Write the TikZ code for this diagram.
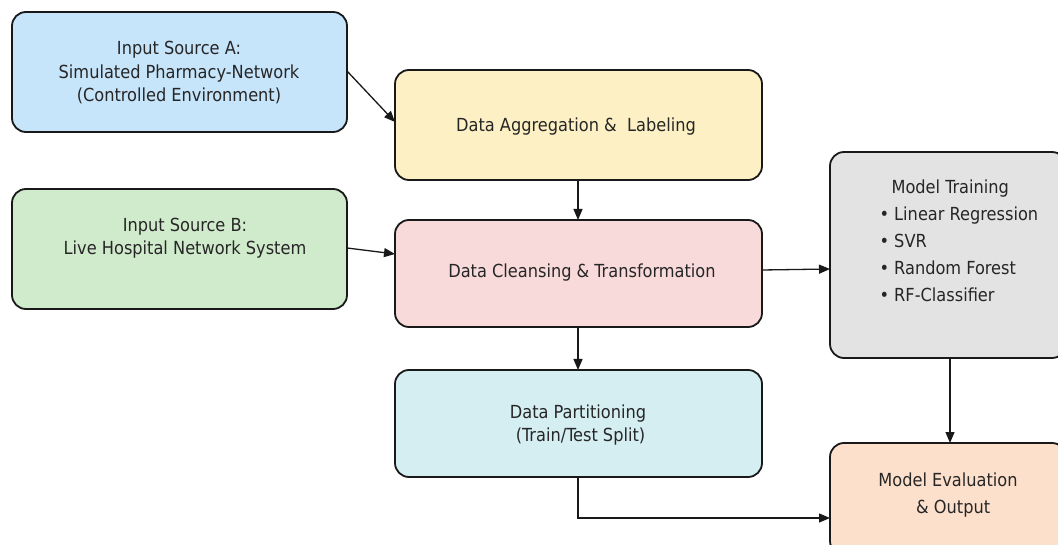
\documentclass[tikz,border=0pt]{standalone}
\usepackage{fontspec}
\setmainfont{DejaVu Sans Condensed}
\usetikzlibrary{arrows.meta,positioning}
\begin{document}
\begin{tikzpicture}[x=1pt,y=-1pt,
  box/.style={draw=black!90, line width=1.8pt, rounded corners=14pt, inner sep=0pt},
  lbl/.style={align=center, font=\fontsize{18}{23.5}\selectfont, text=black!85},
  conn/.style={line width=1.3pt, draw=black!90, -{Triangle[length=11pt,width=9pt]}}]
\useasboundingbox (0,0) rectangle (1058,545);
\definecolor{cA}{HTML}{C6E4FA}
\definecolor{cB}{HTML}{D0EACC}
\definecolor{cAgg}{HTML}{FCF0C4}
\definecolor{cCl}{HTML}{F9DADA}
\definecolor{cPa}{HTML}{D5EEF2}
\definecolor{cMo}{HTML}{E3E3E3}
\definecolor{cEv}{HTML}{FDE0CB}
\path[box, fill=cA] (12,12) rectangle (347,132);
\node[lbl] (A) at (179,73) {Input Source A:\\Simulated Pharmacy-Network\\(Controlled Environment)};
\path[box, fill=cB] (12,189) rectangle (347,309);
\node[lbl] (B) at (185,238) {Input Source B:\\Live Hospital Network System};
\path[box, fill=cAgg] (395,70) rectangle (762,180);
\node[lbl] (Agg) at (576,127) {Data Aggregation \&\ \ Labeling};
\path[box, fill=cCl] (395,220) rectangle (762,327);
\node[lbl] (Cl) at (582,273) {Data Cleansing \& Transformation};
\path[box, fill=cPa] (395,370) rectangle (762,477);
\node[lbl] (Pa) at (578,425) {Data Partitioning\\\ (Train/Test Split)};
\path[box, fill=cMo] (830,152) rectangle (1066,358);
\node[lbl, align=left, anchor=north west, font=\fontsize{18}{27}\selectfont] (Mo) at (876,176) {\hspace*{12pt}Model Training\\\textbullet\ Linear Regression\\\textbullet\ SVR\\\textbullet\ Random Forest\\\textbullet\ RF-Classifier};
\path[box, fill=cEv] (830,443) rectangle (1066,555);
\node[lbl, font=\fontsize{18}{27}\selectfont] (Ev) at (948,495) {Model Evaluation\\\ \ \& Output};
% connectors
\coordinate (aOut) at (347,71);
\coordinate (aggIn) at (395,122);
\coordinate (bOut) at (347,248);
\coordinate (clIn) at (395,254);
\coordinate (aggB) at (578,180);
\coordinate (clT) at (578,220);
\coordinate (clB) at (578,327);
\coordinate (paT) at (578,370);
\coordinate (clR) at (762,270);
\coordinate (moL) at (830,269);
\coordinate (moB) at (950,358);
\coordinate (evT) at (950,443);
\coordinate (paB) at (578,477);
\coordinate (evL) at (830,518);
\draw[conn] (aOut) -- (aggIn);
\draw[conn] (bOut) -- (clIn);
\draw[conn] (aggB) -- (clT);
\draw[conn] (clB) -- (paT);
\draw[conn] (clR) -- (moL);
\draw[conn] (moB) -- (evT);
\draw[conn] (paB) |- (evL);
\end{tikzpicture}
\end{document}
